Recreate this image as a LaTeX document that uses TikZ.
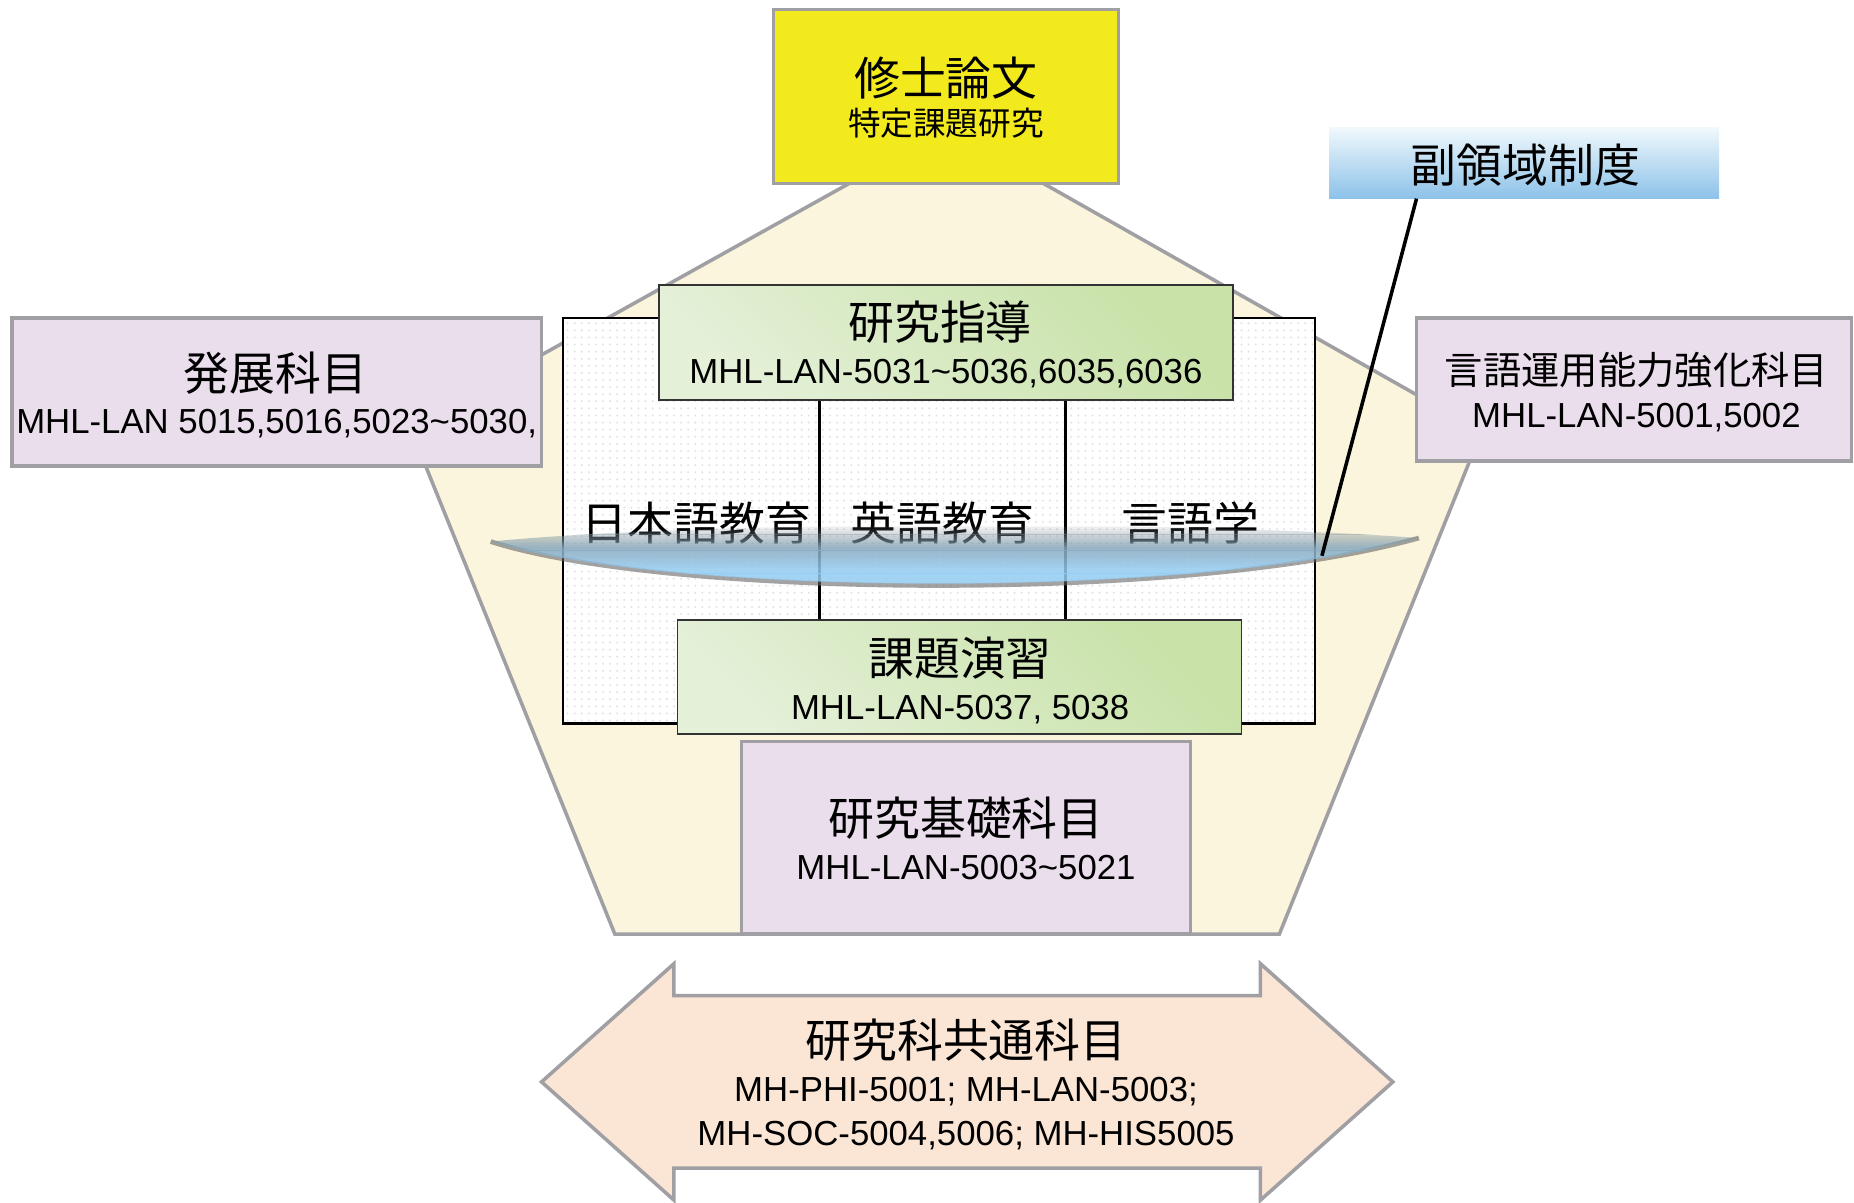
\documentclass[tikz,border=0pt]{standalone}
\usepackage{fontspec}
\setmainfont{Liberation Sans}
\newfontfamily\jpfont{Noto Sans CJK JP}
\usetikzlibrary{patterns}
\usetikzlibrary{positioning,calc}
\definecolor{thesisyellow}{RGB}{243,234,30}
\definecolor{framegray}{RGB}{160,160,164}
\definecolor{pentafill}{RGB}{250,245,220}
\definecolor{subjpurple}{RGB}{234,221,236}
\definecolor{commonpeach}{RGB}{251,229,213}
\definecolor{greenlight}{RGB}{228,240,216}
\definecolor{greendark}{RGB}{200,226,168}
\definecolor{bluetop}{RGB}{240,248,252}
\definecolor{bluemid}{RGB}{222,239,249}
\definecolor{bluebot}{RGB}{140,194,233}
\definecolor{lensblue}{RGB}{148,204,242}
\definecolor{lensgray}{RGB}{128,148,160}
\begin{document}
\begin{tikzpicture}[x=0.5pt,y=-0.5pt,
	frame/.style={draw=framegray,line width=1.5pt},
	purplebox/.style={rectangle,frame,fill=subjpurple,inner sep=0pt},
	greenbox/.style={rectangle,draw=black!80,line width=0.8pt,top color=greendark,bottom color=greenlight,shading angle=-45,inner sep=0pt},
	jtitle/.style={font=\jpfont\fontsize{19.4}{23}\selectfont,inner sep=0pt},
	jmid/.style={font=\jpfont\fontsize{16.2}{19}\selectfont,inner sep=0pt},
	jsmall/.style={font=\jpfont\fontsize{13.8}{16}\selectfont,inner sep=0pt},
	code/.style={font=\fontsize{14.7}{17}\selectfont,inner sep=0pt,text height=10.5pt,text depth=0pt}]
	\useasboundingbox (0,0) rectangle (1568,1017.4);
	% pentagon behind everything
	\draw[frame,fill=pentafill] (801,109) -- (1253,365) -- (1082,790) -- (520,790) -- (347,362) -- cycle;
	\node[rectangle,frame,fill=thesisyellow,minimum width=146pt,minimum height=73.5pt] (thesis) at (800,81.5) {};
	\node[jtitle] (thesisT) at (800,66) {修士論文};
	\node[jsmall] (thesisS) at (800,104) {特定課題研究};
	\node[purplebox,minimum width=224pt,minimum height=62.5pt] (hatten) at (234,331.5) {};
	\node[jtitle] (hattenT) at (233,316) {発展科目};
	\node[code] (hattenC) at (234,356) {MHL-LAN 5015,5016,5023\textasciitilde5030,};
	\node[purplebox,minimum width=184pt,minimum height=60.5pt] (gengo) at (1382,329.5) {};
	\node[jmid] (gengoT) at (1384,313) {言語運用能力強化科目};
	\node[code] (gengoC) at (1384,351) {MHL-LAN-5001,5002};
	% three programmes
	\fill[white] (476,269) rectangle (1112,612);
	\fill[pattern=dots,pattern color=black!10] (476,269) rectangle (1112,612);
	\draw[line width=1pt] (476,269) rectangle (1112,612);
	\foreach \x in {693,901} \draw[line width=1pt] (\x,269) -- (\x,612);
	\foreach \x/\t [count=\i] in {589/日本語教育,797/英語教育,1007/言語学}
		\node[jtitle] (prog\i) at (\x,442) {\t};
	% lens, faded by strips
	\draw[black!60,line width=2pt,opacity=0.6] (415,458) .. controls (560,505) and (1000,511) .. (1200,455);
	\begin{scope}
		\clip (415,458) .. controls (560,503) and (1000,509) .. (1200,455) .. controls (1000,440) and (600,440) .. (415,458) -- cycle;
		\foreach \k in {0,...,35}{
			\pgfmathsetmacro{\op}{0.85*min(1,\k/13)}
			\pgfmathtruncatemacro{\mix}{min(100,100*(\k-6)/20)}
			\fill[lensblue!\mix!lensgray,opacity=\op] (410,{443+1.5*\k}) rectangle (1205,{444.6+1.5*\k});
		}
	\end{scope}
	\node[rectangle,inner sep=0pt,minimum width=165pt,minimum height=30pt,top color=bluetop,middle color=bluemid,bottom color=bluebot] (fuku) at (1289,138) {};
	\node[jtitle] (fukuT) at (1290,140) {副領域制度};
	\coordinate (fukuFoot) at (1198,168);
	\coordinate (lensEnd) at (1118,470);
	\draw[line width=1.5pt] (fukuFoot) -- (lensEnd);
	\node[greenbox,minimum width=243pt,minimum height=48.5pt] (shido) at (800,289.5) {};
	\node[jtitle] (shidoT) at (795,272) {研究指導};
	\node[code] (shidoC) at (800,314) {MHL-LAN-5031\textasciitilde5036,6035,6036};
	\node[greenbox,minimum width=238.5pt,minimum height=48.5pt] (enshu) at (811.5,572.5) {};
	\node[jtitle] (enshuT) at (812,557) {課題演習};
	\node[code] (enshuC) at (812,598) {MHL-LAN-5037, 5038};
	\node[purplebox,minimum width=190pt,minimum height=81.5pt] (kiso) at (817,708.5) {};
	\node[jtitle] (kisoT) at (817,692) {研究基礎科目};
	\node[code] (kisoC) at (817,733) {MHL-LAN-5003\textasciitilde5021};
	% common courses, double arrow
	\draw[frame,fill=commonpeach] (458,915) -- (570,815) -- (570,842) -- (1066,842) -- (1066,815) -- (1178,915)
		-- (1066,1015) -- (1066,988) -- (570,988) -- (570,1015) -- cycle;
	\node[jtitle] (commonT) at (817,880) {研究科共通科目};
	\node[code] (commonA) at (817,921) {MH-PHI-5001; MH-LAN-5003;};
	\node[code] (commonB) at (817,958) {MH-SOC-5004,5006; MH-HIS5005};
\end{tikzpicture}
\end{document}
